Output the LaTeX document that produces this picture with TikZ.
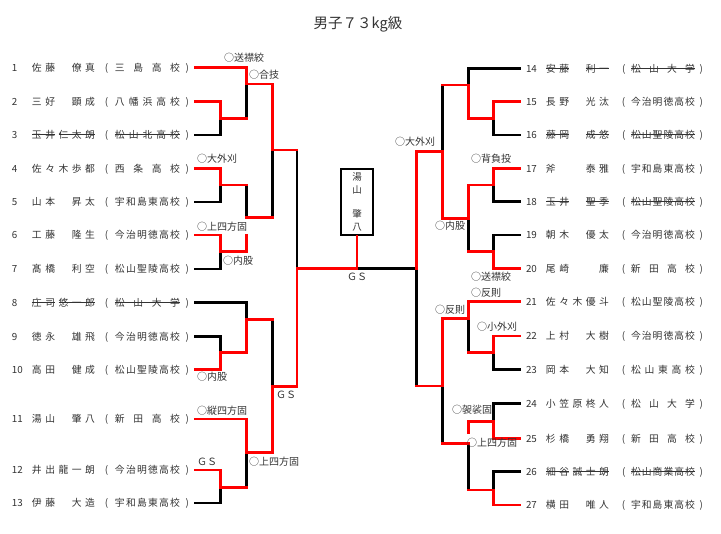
\documentclass[tikz,border=0pt]{standalone}
\usepackage{fontspec}
\newfontfamily\jpf{Noto Sans CJK JP}
\definecolor{txtgray}{HTML}{333333}
\definecolor{winred}{HTML}{FF0000}

% strike-through for withdrawn players
\newsavebox\skbox
\newcommand{\sk}[1]{\sbox\skbox{#1}\rlap{\rule[3.3pt]{\wd\skbox}{0.8pt}}\usebox\skbox}
% school name spread over a fixed width
\newcommand{\sch}[2]{\makebox[#1][s]{\spaceskip=0pt plus 1fil\relax #2}}
\newcommand{\nmbox}[2]{\makebox[63pt][l]{\spaceskip=3.5pt\relax #1\hfill #2}}
\newcommand{\pleft}[4]{\makebox[20pt][l]{#1}\nmbox{#2}{#3}\hspace{10pt}\makebox[10pt][l]{(}\sch{65pt}{#4}\makebox[9pt][r]{)}}
\newcommand{\pleftx}[4]{\makebox[20pt][l]{#1}\nmbox{\sk{#2}}{\sk{#3}}\hspace{10pt}\makebox[10pt][l]{(}\sk{\sch{65pt}{#4}}\makebox[9pt][r]{)}}
\newcommand{\pright}[4]{\makebox[20pt][l]{#1}\nmbox{#2}{#3}\hspace{13pt}\makebox[9pt][l]{(}\sch{64pt}{#4}\makebox[8pt][r]{)}}
\newcommand{\prightx}[4]{\makebox[20pt][l]{#1}\nmbox{\sk{#2}}{\sk{#3}}\hspace{13pt}\makebox[9pt][l]{(}\sk{\sch{64pt}{#4}}\makebox[8pt][r]{)}}

\begin{document}
\begin{tikzpicture}[x=1pt,y=-1pt,
  win/.style={draw=winred, line width=2.6pt, line cap=rect},
  lose/.style={draw=black, line width=2.6pt, line cap=rect},
  plL/.style={anchor=west, inner xsep=3pt, outer xsep=3pt, inner ysep=0pt, outer ysep=0pt,
    text height=8pt, text depth=0.8pt, text=txtgray,
    font=\jpf\fontsize{9.8}{11}\selectfont},
  plR/.style={plL},
  tech/.style={anchor=west, inner sep=0pt, text=txtgray, font=\jpf\fontsize{10}{11}\selectfont}
]
\fill[white] (0,0) rectangle (721,534);
\useasboundingbox (0,0) rectangle (721,534);

\node[text=txtgray, font=\jpf\fontsize{14.5}{16}\selectfont] (title) at (358,24) {男子７３kg級};

% players, left block
\node[plL] (p1) at (6,67.5) {\pleft{1}{佐 藤}{僚 真}{三 島 高 校}};
\node[plL] (p2) at (6,101.5) {\pleft{2}{三 好}{顕 成}{八 幡 浜 高 校}};
\node[plL] (p3) at (6,135) {\pleftx{3}{玉 井}{仁 太 朗}{松 山 北 高 校}};
\node[plL] (p4) at (6,168.5) {\pleft{4}{佐 々 木}{歩 都}{西 条 高 校}};
\node[plL] (p5) at (6,202) {\pleft{5}{山 本}{昇 太}{宇 和 島 東 高 校}};
\node[plL] (p6) at (6,235) {\pleft{6}{工 藤}{隆 生}{今 治 明 徳 高 校}};
\node[plL] (p7) at (6,269) {\pleft{7}{髙 橋}{利 空}{松 山 聖 陵 高 校}};
\node[plL] (p8) at (6,302.5) {\pleftx{8}{庄 司}{悠 一 郎}{松 山 大 学}};
\node[plL] (p9) at (6,336.5) {\pleft{9}{徳 永}{雄 飛}{今 治 明 徳 高 校}};
\node[plL] (p10) at (6,369.5) {\pleft{10}{高 田}{健 成}{松 山 聖 陵 高 校}};
\node[plL] (p11) at (6,419) {\pleft{11}{湯 山}{肇 八}{新 田 高 校}};
\node[plL] (p12) at (6,470) {\pleft{12}{井 出}{龍 一 朗}{今 治 明 徳 高 校}};
\node[plL] (p13) at (6,503) {\pleft{13}{伊 藤}{大 造}{宇 和 島 東 高 校}};

% players, right block
\node[plR] (p14) at (520,68.5) {\prightx{14}{安 藤}{利 一}{松 山 大 学}};
\node[plR] (p15) at (520,101.5) {\pright{15}{長 野}{光 汰}{今 治 明 徳 高 校}};
\node[plR] (p16) at (520,135) {\prightx{16}{藤 岡}{成 悠}{松 山 聖 陵 高 校}};
\node[plR] (p17) at (520,168.5) {\pright{17}{斧}{泰 雅}{宇 和 島 東 高 校}};
\node[plR] (p18) at (520,201.5) {\prightx{18}{玉 井}{聖 季}{松 山 聖 陵 高 校}};
\node[plR] (p19) at (520,235) {\pright{19}{朝 木}{優 太}{今 治 明 徳 高 校}};
\node[plR] (p20) at (520,268.5) {\pright{20}{尾 崎}{廉}{新 田 高 校}};
\node[plR] (p21) at (520,301.5) {\pright{21}{佐 々 木}{優 斗}{松 山 聖 陵 高 校}};
\node[plR] (p22) at (520,336) {\pright{22}{上 村}{大 樹}{今 治 明 徳 高 校}};
\node[plR] (p23) at (520,369.5) {\pright{23}{岡 本}{大 知}{松 山 東 高 校}};
\node[plR] (p24) at (520,403.5) {\pright{24}{小 笠 原}{柊 人}{松 山 大 学}};
\node[plR] (p25) at (520,438.5) {\pright{25}{杉 橋}{勇 翔}{新 田 高 校}};
\node[plR] (p26) at (520,471.5) {\prightx{26}{細 谷}{誠 士 朗}{松 山 商 業 高 校}};
\node[plR] (p27) at (520,505) {\pright{27}{横 田}{唯 人}{宇 和 島 東 高 校}};

% winner box
\node[draw=black, line width=2.4pt, minimum width=32pt, minimum height=66pt, inner sep=0pt,
  align=center, text=txtgray, font=\jpf\fontsize{9.5}{13}\selectfont] (champ) at (357,202)
  {湯\\山\\[11pt]肇\\八};

% match joins
\coordinate (m23) at (220.7,118.3);
\coordinate (m123) at (246.5,84);
\coordinate (m45) at (220.7,185);
\coordinate (m4567) at (246.5,217.7);
\coordinate (m67) at (220.7,251.7);
\coordinate (m67top) at (246.5,235);
\coordinate (mA) at (272.3,150);
\coordinate (mL) at (297,268.3);
\coordinate (m910) at (220.7,352.7);
\coordinate (m810) at (246.5,319.3);
\coordinate (m1213) at (220.7,487.3);
\coordinate (m1113) at (246.5,452.7);
\coordinate (mB) at (272.3,386.7);
\coordinate (fin) at (357,268.3);
\coordinate (mR) at (416.7,268.3);
\coordinate (n1516) at (493.3,118.3);
\coordinate (n1416) at (468.3,85);
\coordinate (nA) at (442.7,151.7);
\coordinate (n1718) at (493.3,185);
\coordinate (n1720) at (468.3,218.3);
\coordinate (n1920) at (493.3,251.7);
\coordinate (n2223) at (493.3,352.7);
\coordinate (n2123) at (468.3,318.3);
\coordinate (nB) at (442.7,386);
\coordinate (n2425) at (493.3,421.7);
\coordinate (n2427) at (468.3,443.3);
\coordinate (n2627) at (493.3,490);

% losing lines first
\draw[lose] (p3.east) -| (m23);
\draw[lose] (m23 -| m123) -- (m123);
\draw[lose] (p5.east) -| (m45);
\draw[lose] (m45 -| m4567) -- (m4567);
\draw[lose] (p7.east) -| (m67);
\draw[lose] (m4567 -| mA) -- (mA);
\draw[lose] (mA -| mL) -- (mL);
\draw[lose] (fin) -- (mR);
\draw[lose] (p8.east) -| (m810);
\draw[lose] (p9.east) -| (m910);
\draw[lose] (m810 -| mB) -- (mB);
\draw[lose] (p13.east) -| (m1213);
\draw[lose] (m1213 -| m1113) -- (m1113);
\draw[lose] (p14.west) -| (n1416);
\draw[lose] (p16.west) -| (n1516);
\draw[lose] (n1416 -| nA) -- (nA);
\draw[lose] (p18.west) -| (n1718);
\draw[lose] (n1720) -- (n1720 |- n1920);
\draw[lose] (p19.west) -| (n1920);
\draw[lose] (mR) -- (mR |- nB);
\draw[lose] (n2123) -- (n2123 |- n2223);
\draw[lose] (p23.west) -| (n2223);
\draw[lose] (nB) -- (nB |- n2427);
\draw[lose] (n2427) -- (n2427 |- n2627);
\draw[lose] (p24.west) -| (n2425);
\draw[lose] (p26.west) -| (n2627);

% winning lines on top
\draw[win] (p1.east) -| (m123) -| (mA) -- (mA -| mL);
\draw[win] (p2.east) -| (m23) -- (m23 -| m123);
\draw[win] (p4.east) -| (m45) -- (m45 -| m4567);
\draw[win] (m4567) -- (m4567 -| mA);
\draw[win] (p6.east) -| (m67) -| (m67top);
\draw[win] (mB) -| (mL) -- (fin);
\draw[win] (champ.south) -- (fin);
\draw[win] (p10.east) -| (m910) -| (m810) -- (m810 -| mB);
\draw[win] (p11.east) -| (m1113) -| (mB);
\draw[win] (p12.east) -| (m1213) -- (m1213 -| m1113);
\draw[win] (p15.west) -| (n1516) -| (n1416) -- (n1416 -| nA);
\draw[win] (nA) -| (mR);
\draw[win] (nA) |- (n1720);
\draw[win] (p17.west) -| (n1718) -| (n1720);
\draw[win] (p20.west) -| (n1920) -- (n1920 -| n1720);
\draw[win] (mR |- nB) -- (nB) |- (n2123) |- (p21.west);
\draw[win] (p22.west) -| (n2223) -- (n2223 -| n2123);
\draw[win] (n2427) -- (n2427 -| nB);
\draw[win] (p25.west) -| (n2425) -- (n2425 -| n2427) -- ++(0,11);
\draw[win] (p27.west) -| (n2627) -- (n2627 -| n2427);

% techniques
\node[tech] (t1) at (224,58) {○送襟絞};
\node[tech] (t2) at (249,75) {○合技};
\node[tech] (t3) at (197,159) {○大外刈};
\node[tech] (t4) at (197,227) {○上四方固};
\node[tech] (t5) at (223,261) {○内股};
\node[tech] (t6) at (197,377) {○内股};
\node[tech] (t7) at (276,395) {ＧＳ};
\node[tech] (t8) at (197,411) {○縦四方固};
\node[tech] (t9) at (197,462) {ＧＳ};
\node[tech] (t10) at (249,462) {○上四方固};
\node[tech, anchor=center] (t11) at (357,277) {ＧＳ};
\node[tech] (t12) at (395,142) {○大外刈};
\node[tech] (t13) at (471,159) {○背負投};
\node[tech] (t14) at (435,226) {○内股};
\node[tech] (t15) at (471,277) {○送襟絞};
\node[tech] (t16) at (471,293) {○反則};
\node[tech] (t17) at (435,310) {○反則};
\node[tech] (t18) at (477,327) {○小外刈};
\node[tech] (t19) at (452,410) {○袈裟固};
\node[tech] (t20) at (467,443) {○上四方固};
\end{tikzpicture}
\end{document}
